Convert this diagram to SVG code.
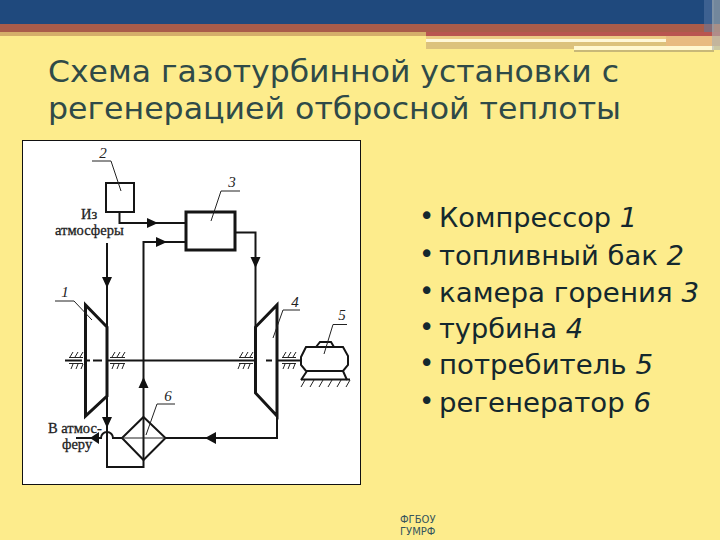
<svg xmlns="http://www.w3.org/2000/svg" width="720" height="540" viewBox="0 0 720 540">
<style>
.t{font-family:"DejaVu Sans",sans-serif;fill:#2f4a48;font-size:31px}
.b{font-family:"DejaVu Sans",sans-serif;fill:#14282e;font-size:26px}
.i{font-style:italic}
.s{font-family:"Liberation Serif",serif;fill:#222;font-size:14.500px;stroke:#222;stroke-width:.3}
.n{font-family:"Liberation Serif",serif;fill:#222;font-size:15px;font-style:italic;text-anchor:middle}
.l{fill:none;stroke:#151515;stroke-width:2}
.h{fill:none;stroke:#151515;stroke-width:3}
.f{fill:none;stroke:#222;stroke-width:1}
.a{fill:#111}
</style>
<rect width="720" height="540" fill="#fdec8c"/>
<rect width="720" height="24" fill="#1f497d"/>
<rect y="24" width="720" height="8" fill="#a95c4a"/>
<rect x="426" y="32" width="294" height="4" fill="#b95550"/>
<rect x="0" y="32" width="426" height="4" fill="#d5ae6a"/>
<rect x="426" y="36" width="240" height="3" fill="#eccb85"/>
<rect x="426" y="39" width="240" height="3" fill="#fff8d8"/>
<rect x="426" y="42" width="240" height="7" fill="#dcc27c"/>
<rect x="666" y="36" width="54" height="10" fill="#e8bb80"/>
<rect x="574" y="46" width="140" height="4" fill="#fff8d0"/>
<rect x="574" y="50" width="140" height="2" fill="#c8b878"/>
<rect x="704" y="0" width="10" height="32" fill="#5b7aa5" opacity=".5"/>
<rect x="712" y="0" width="8" height="50" fill="#aab0b0" opacity=".6"/>
<text class="t" x="48" y="82" textLength="571" lengthAdjust="spacingAndGlyphs">Схема газотурбинной установки с</text>
<text class="t" x="48" y="118.500" textLength="573" lengthAdjust="spacingAndGlyphs">регенерацией отбросной теплоты</text>
<rect x="22.500" y="140.500" width="338" height="344" fill="#fff" stroke="#111"/>
<g id="connectors">
<path class="l" d="M119.500 212V223H186M143.500 460V242H186M235 232.500H255.500V326M277 416V438H166M107 243V327M107 396V467H143.500V460M122 438H113A6 6 0 0 0 101 438H76"/>
<path class="l" d="M65 360.500H82M87 360.500H90M93 360.500H102M107 360.500H256M266 360.500H272M277 360.500H301"/>
<path class="a" d="M158 223l-11-5v10zM167 242l-11-5v10zM107 288l-5-11h10zM255.500 268l-5-11h10zM143.500 377l-5 11h10zM107 428l-5-11h10zM90 438l9-6v12zM205 438l11-6v12z"/>
</g>
<g id="node-1">
<path class="h" d="M85.500 305V416L107 396V327Z"/>
<path class="f" d="M55 301H74L92 320"/>
<text class="n" x="65" y="297">1</text>
<path class="f" d="M70 357l3-5M75 357l3-5M80 357l3-5M69 357.500H83M69 363.500H83M71 369l2-5M76 369l2-5M81 369l2-5M112 357l3-5M117 357l3-5M122 357l3-5M110 357.500H125M110 363.500H125M112 369l2-5M117 369l2-5M122 369l2-5"/>
</g>
<g id="node-2">
<rect x="106" y="183" width="28" height="29" fill="#fff" stroke="#151515" stroke-width="2"/>
<path class="f" d="M92 161H111L121 191"/>
<text class="n" x="103" y="158">2</text>
</g>
<g id="node-3">
<rect x="186" y="212" width="49" height="38" fill="#fff" stroke="#151515" stroke-width="3"/>
<path class="f" d="M240 191H221L211 221"/>
<text class="n" x="232" y="187">3</text>
</g>
<g id="node-4">
<path class="h" d="M255.500 327V393L277 416V305Z"/>
<path class="f" d="M300 310H283L273 338"/>
<text class="n" x="295" y="307">4</text>
<path class="f" d="M240 357l3-5M245 357l3-5M250 357l3-5M239 357.500H253M239 363.500H253M238 369l2-5M243 369l2-5M248 369l2-5M283 357l3-5M288 357l3-5M293 357l3-5M282 357.500H296M282 363.500H296M283 369l2-5M288 369l2-5M293 369l2-5"/>
</g>
<g id="node-5">
<path class="l" d="M301 357L306 347H343L348 356V365L343 371H306L301 365ZM316 347L320 342H331L334 347M307 371L301 380M343 371L347 380"/>
<path class="l" d="M301 379.500H350"/>
<path class="f" d="M305 380l-4 7M314 380l-4 7M323 380l-4 7M332 380l-4 7M341 380l-4 7M350 380l-4 7M347 324.500H333L324 354"/>
<text class="n" x="342" y="320">5</text>
</g>
<g id="node-6">
<path class="l" d="M143.500 417L165.500 438L143.500 460L122 438Z"/>
<path class="f" d="M122 438H165M175 404H157L146 435"/>
<text class="n" x="168" y="401">6</text>
</g>
<text class="s" x="81" y="219">Из</text>
<text class="s" x="55" y="235">атмосферы</text>
<text class="s" x="48" y="433">В атмос-</text>
<text class="s" x="62" y="449">феру</text>
<g class="b">
<text x="419" y="225">•</text><text x="439" y="227" textLength="198" lengthAdjust="spacingAndGlyphs">Компрессор <tspan class="i">1</tspan></text>
<text x="419" y="263">•</text><text x="439" y="265" textLength="245" lengthAdjust="spacingAndGlyphs">топливный бак <tspan class="i">2</tspan></text>
<text x="419" y="300">•</text><text x="439" y="302" textLength="260" lengthAdjust="spacingAndGlyphs">камера горения <tspan class="i">3</tspan></text>
<text x="419" y="336">•</text><text x="439" y="338" textLength="144" lengthAdjust="spacingAndGlyphs">турбина <tspan class="i">4</tspan></text>
<text x="419" y="372">•</text><text x="439" y="374" textLength="214" lengthAdjust="spacingAndGlyphs">потребитель <tspan class="i">5</tspan></text>
<text x="419" y="410">•</text><text x="439" y="412" textLength="212" lengthAdjust="spacingAndGlyphs">регенератор <tspan class="i">6</tspan></text>
</g>
<text x="400" y="523" font-family="DejaVu Sans,sans-serif" font-size="10" fill="#34545c">ФГБОУ</text>
<text x="400" y="535" font-family="DejaVu Sans,sans-serif" font-size="10" fill="#34545c">ГУМРФ</text>
</svg>
